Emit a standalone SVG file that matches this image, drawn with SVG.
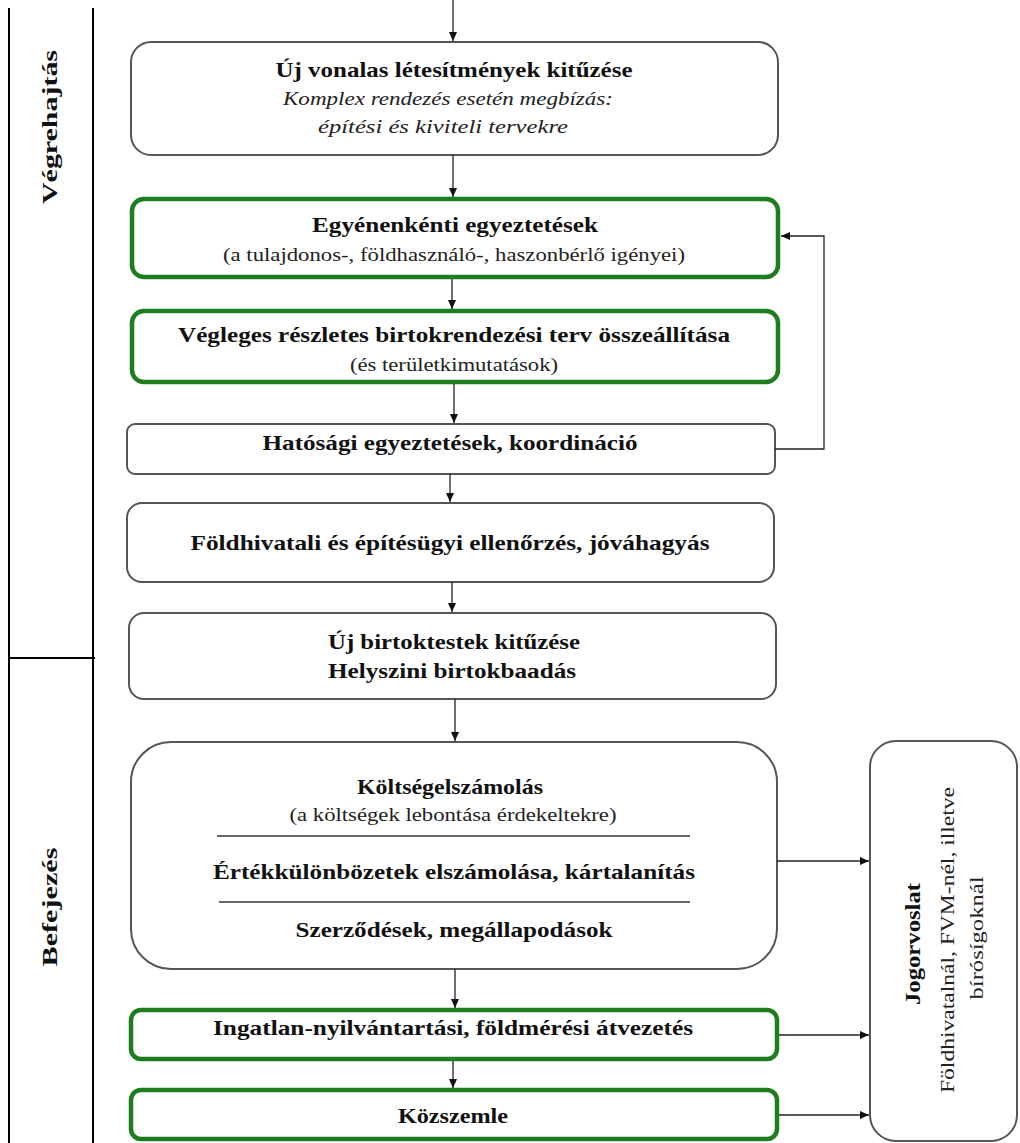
<svg xmlns="http://www.w3.org/2000/svg" width="1020" height="1143" viewBox="0 0 1020 1143">
<style>
.box{fill:#fff;stroke:#555;stroke-width:2}
.gbox{fill:#fff;stroke:#1e7d1e;stroke-width:4.5}
.b{font-family:"Liberation Serif","Times New Roman",serif;font-weight:bold;font-size:21px;fill:#111;text-anchor:middle}
.r{font-family:"Liberation Serif","Times New Roman",serif;font-size:19px;fill:#222;text-anchor:middle}
.i{font-family:"Liberation Serif","Times New Roman",serif;font-style:italic;font-size:19px;fill:#222;text-anchor:middle}
.lane{stroke:#000;stroke-width:2;fill:none}
.c{stroke:#222;stroke-width:1.3;fill:none;marker-end:url(#ah)}
.sep{stroke:#333;stroke-width:1.3}
</style>
<defs>
<marker id="ah" markerUnits="userSpaceOnUse" markerWidth="9" markerHeight="8" refX="9" refY="4" orient="auto">
<path d="M0,0 L9,4 L0,8 z" fill="#111"/>
</marker>
</defs>
<rect width="1020" height="1143" fill="#fff"/>
<g id="lanes">
<line class="lane" x1="9" y1="8" x2="9" y2="1143"/>
<line class="lane" x1="93" y1="8" x2="93" y2="1143"/>
<line class="lane" x1="9" y1="658" x2="95" y2="658"/>
<text class="b" font-size="24" transform="translate(57,127) rotate(-90)" x="0" y="0" textLength="154" lengthAdjust="spacingAndGlyphs">Végrehajtás</text>
<text class="b" font-size="24" transform="translate(57,907) rotate(-90)" x="0" y="0" textLength="119" lengthAdjust="spacingAndGlyphs">Befejezés</text>
</g>
<g id="n1">
<rect class="box" x="131" y="42" width="647" height="113" rx="20"/>
<text class="b" x="454" y="77" textLength="357" lengthAdjust="spacingAndGlyphs">Új vonalas létesítmények kitűzése</text>
<text class="i" x="448" y="105" textLength="330" lengthAdjust="spacingAndGlyphs">Komplex rendezés esetén megbízás:</text>
<text class="i" x="443" y="133" textLength="250" lengthAdjust="spacingAndGlyphs">építési és kiviteli tervekre</text>
</g>
<g id="n2">
<rect class="gbox" x="132" y="199" width="646" height="78" rx="12"/>
<text class="b" x="455" y="232" textLength="286" lengthAdjust="spacingAndGlyphs">Egyénenkénti egyeztetések</text>
<text class="r" x="454" y="261" textLength="462" lengthAdjust="spacingAndGlyphs">(a tulajdonos-, földhasználó-, haszonbérlő igényei)</text>
</g>
<g id="n3">
<rect class="gbox" x="132" y="311" width="646" height="71" rx="12"/>
<text class="b" x="454" y="342" textLength="552" lengthAdjust="spacingAndGlyphs">Végleges részletes birtokrendezési terv összeállítása</text>
<text class="r" x="454" y="371" textLength="208" lengthAdjust="spacingAndGlyphs">(és területkimutatások)</text>
</g>
<g id="n4">
<rect class="box" x="127" y="424" width="648" height="50" rx="8"/>
<text class="b" x="450" y="450" textLength="375" lengthAdjust="spacingAndGlyphs">Hatósági egyeztetések, koordináció</text>
</g>
<g id="n5">
<rect class="box" x="127" y="503" width="647" height="79" rx="15"/>
<text class="b" x="450" y="550" textLength="519" lengthAdjust="spacingAndGlyphs">Földhivatali és építésügyi ellenőrzés, jóváhagyás</text>
</g>
<g id="n6">
<rect class="box" x="129" y="613" width="647" height="86" rx="15"/>
<text class="b" x="454" y="649" textLength="252" lengthAdjust="spacingAndGlyphs">Új birtoktestek kitűzése</text>
<text class="b" x="452" y="678" textLength="248" lengthAdjust="spacingAndGlyphs">Helyszini birtokbaadás</text>
</g>
<g id="n7">
<rect class="box" x="131" y="742" width="646" height="227" rx="40"/>
<text class="b" x="450" y="794" textLength="186" lengthAdjust="spacingAndGlyphs">Költségelszámolás</text>
<text class="r" x="453" y="821" textLength="327" lengthAdjust="spacingAndGlyphs">(a költségek lebontása érdekeltekre)</text>
<line class="sep" x1="217" y1="836" x2="690" y2="836"/>
<text class="b" x="454" y="879" textLength="482" lengthAdjust="spacingAndGlyphs">Értékkülönbözetek elszámolása, kártalanítás</text>
<line class="sep" x1="219" y1="902" x2="690" y2="902"/>
<text class="b" x="454" y="937" textLength="317" lengthAdjust="spacingAndGlyphs">Szerződések, megállapodások</text>
</g>
<g id="n8">
<rect class="gbox" x="131" y="1010" width="646" height="49" rx="10"/>
<text class="b" x="453" y="1035" textLength="480" lengthAdjust="spacingAndGlyphs">Ingatlan-nyilvántartási, földmérési átvezetés</text>
</g>
<g id="n9">
<rect class="gbox" x="131" y="1090" width="646" height="49" rx="10"/>
<text class="b" x="453" y="1123" textLength="110" lengthAdjust="spacingAndGlyphs">Közszemle</text>
</g>
<g id="n10">
<rect class="box" x="870" y="741" width="147" height="400" rx="26"/>
<text class="b" font-size="20" transform="translate(920,944) rotate(-90)" x="0" y="0" textLength="122" lengthAdjust="spacingAndGlyphs">Jogorvoslat</text>
<text class="r" transform="translate(954,940) rotate(-90)" x="0" y="0" textLength="306" lengthAdjust="spacingAndGlyphs">Földhivatalnál, FVM-nél, illetve</text>
<text class="r" transform="translate(983,938) rotate(-90)" x="0" y="0" textLength="123" lengthAdjust="spacingAndGlyphs">bírósígoknál</text>
</g>
<g id="connectors">
<line class="c" x1="453" y1="0" x2="453" y2="41"/>
<line class="c" x1="453" y1="155" x2="453" y2="197"/>
<line class="c" x1="452" y1="279" x2="452" y2="309"/>
<line class="c" x1="454" y1="384" x2="454" y2="423"/>
<line class="c" x1="450" y1="474" x2="450" y2="502"/>
<line class="c" x1="452" y1="582" x2="452" y2="612"/>
<line class="c" x1="455" y1="699" x2="455" y2="741"/>
<line class="c" x1="455" y1="969" x2="455" y2="1008"/>
<line class="c" x1="453" y1="1061" x2="453" y2="1088"/>
<polyline class="c" points="775,449 824,449 824,236 781,236"/>
<line class="c" x1="777" y1="861" x2="869" y2="861"/>
<line class="c" x1="779" y1="1035" x2="869" y2="1035"/>
<line class="c" x1="779" y1="1115" x2="869" y2="1115"/>
</g>
</svg>
